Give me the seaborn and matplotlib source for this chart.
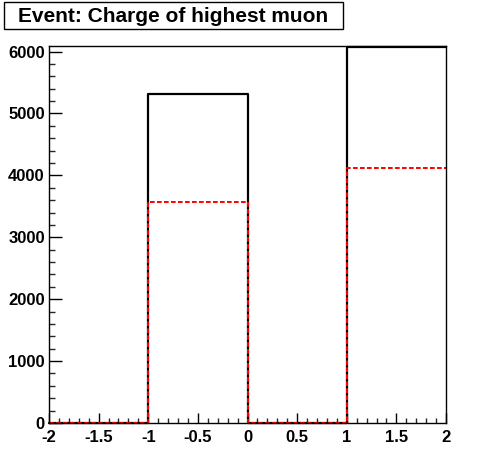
import numpy as np
import matplotlib
matplotlib.use("Agg")
import matplotlib.pyplot as plt
import seaborn as sns
from matplotlib.patches import Rectangle
from matplotlib.ticker import MultipleLocator, FuncFormatter

# Charge of highest muon: bin edges and counts for the two samples
bin_edges = [-2, -1, 0, 1, 2]
bin_centers = [-1.5, -0.5, 0.5, 1.5]
counts_all = [0, 5310, 0, 6080]
counts_sel = [0, 3570, 0, 4120]
title_text = "Event: Charge of highest muon"

sns.set_style("ticks")
plt.rcParams['font.family'] = ['Liberation Sans', 'DejaVu Sans']

fig = plt.figure(figsize=(4.96, 4.72), dpi=100)
ax = fig.add_axes([0.0988, 0.1038, 0.8004, 0.7987])

sns.histplot(x=bin_centers, weights=counts_all, bins=bin_edges, element="step",
             fill=False, color="black", linewidth=1.6, clip_on=False, ax=ax)
sns.histplot(x=bin_centers, weights=counts_sel, bins=bin_edges, element="step",
             fill=False, color="red", linewidth=1.4, linestyle=(0, (2.4, 1.2)),
             clip_on=False, ax=ax)

ax.set_xlim(-2, 2)
ax.set_ylim(0, 6090)
ax.set_xlabel("")
ax.set_ylabel("")
ax.xaxis.set_major_locator(MultipleLocator(0.5))
ax.xaxis.set_minor_locator(MultipleLocator(0.1))
ax.yaxis.set_major_locator(MultipleLocator(1000))
ax.yaxis.set_minor_locator(MultipleLocator(200))
ax.xaxis.set_major_formatter(FuncFormatter(lambda v, p: f"{v:g}"))
ax.yaxis.set_major_formatter(FuncFormatter(lambda v, p: f"{v:g}"))
ax.tick_params(axis="both", which="major", direction="in", width=1,
               labelsize=12, colors="black")
ax.tick_params(axis="x", which="major", length=7.5, pad=5)
ax.tick_params(axis="y", which="major", length=9, pad=3)
ax.tick_params(axis="x", which="minor", direction="in", length=3.8, width=1)
ax.tick_params(axis="y", which="minor", direction="in", length=4.5, width=1)
for lab in ax.get_xticklabels() + ax.get_yticklabels():
    lab.set_fontweight("bold")
for sp in ax.spines.values():
    sp.set_visible(True)
    sp.set_linewidth(1)
    sp.set_color("black")

# title box in the top left corner
fig.patches.append(Rectangle((0.008, 0.9386), 0.683, 0.0572, transform=fig.transFigure,
                             facecolor="white", edgecolor="black", linewidth=1))
fig.text(0.3495, 0.966, title_text, ha="center", va="center", fontsize=15,
         fontweight="bold", color="black")

fig.savefig("out.png", dpi=100)
